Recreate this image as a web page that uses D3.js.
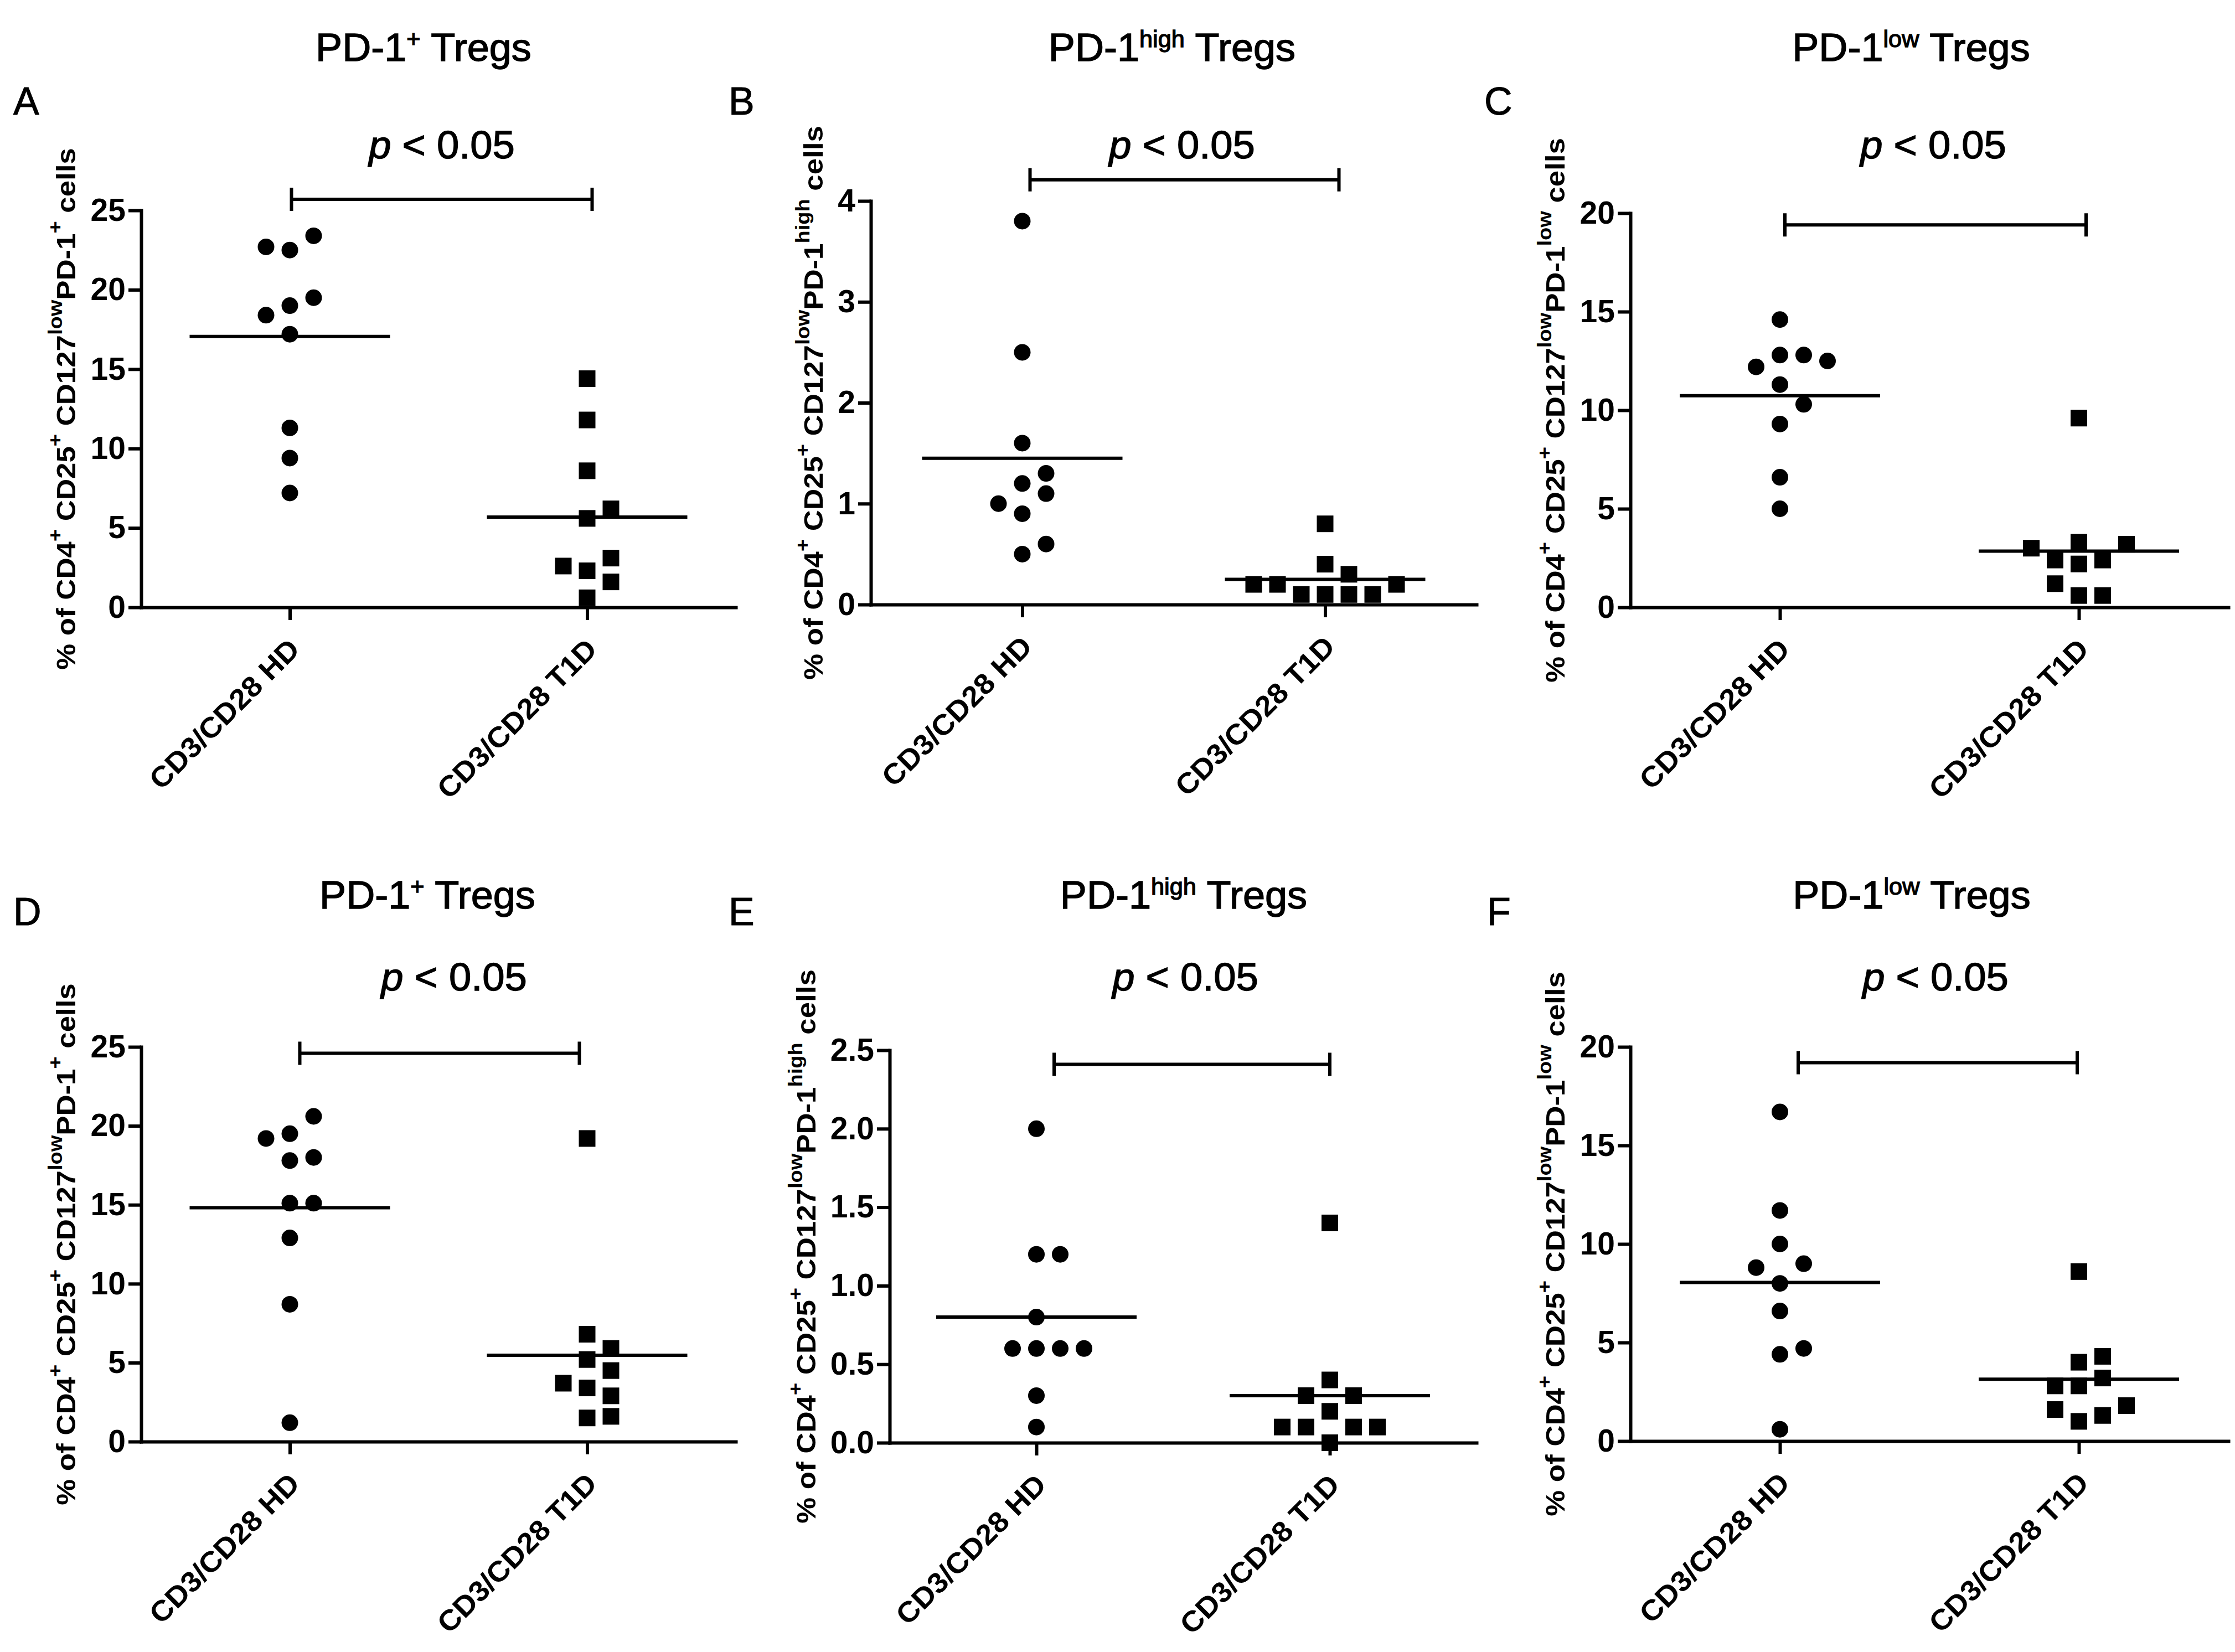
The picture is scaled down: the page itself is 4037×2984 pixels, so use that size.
<!DOCTYPE html>
<html>
<head>
<meta charset="utf-8">
<script src="https://cdn.jsdelivr.net/npm/d3@7"></script>
<style>
  html, body { margin: 0; padding: 0; background: #fff; }
  svg { display: block; font-family: "Liberation Sans", Arial, sans-serif; }
</style>
</head>
<body>
<div id="chart"></div>
<script>
const W = 4037, H = 2984;

// ---- data ----
const categories = ["CD3/CD28 HD", "CD3/CD28 T1D"];
const letters = ["A", "B", "C", "D", "E", "F"];
const subsets = ["+", "high", "low", "+", "high", "low"];

// values in entry order (the order decides which dots get pushed sideways)
const hdA  = [22.5, 23.4, 22.7, 19.0, 19.5, 18.4, 17.2, 11.3, 9.4, 7.2];
const t1dA = [14.4, 11.8, 8.6, 5.6, 6.2, 2.3, 3.1, 2.6, 0.6, 1.6];
const hdB  = [3.8, 2.5, 1.6, 1.2, 1.3, 1.1, 0.9, 1.0, 0.5, 0.6];
const t1dB = [0.8, 0.4, 0.3, 0.1, 0.1, 0.1, 0.1, 0.2, 0.2, 0.2];
const hdC  = [14.6, 12.8, 12.8, 12.2, 12.5, 11.3, 10.3, 9.3, 6.6, 5.0];
const t1dC = [9.6, 2.2, 2.4, 2.4, 3.2, 3.0, 3.3, 0.6, 0.6, 1.2];
const hdD  = [19.5, 17.8, 18.0, 19.2, 20.6, 15.1, 15.1, 12.9, 8.7, 1.2];
const t1dD = [19.2, 5.2, 5.9, 4.5, 6.8, 3.4, 3.7, 1.5, 1.6, 2.9];
const hdE  = [2.0, 1.2, 1.2, 0.8, 0.6, 0.6, 0.6, 0.6, 0.3, 0.1];
const t1dE = [1.4, 0.4, 0.3, 0.3, 0.2, 0.1, 0.1, 0.1, 0.1, 0.0];
const hdF  = [16.7, 11.7, 10.0, 8.0, 9.0, 8.8, 6.6, 4.4, 4.7, 0.6];
const t1dF = [8.6, 4.0, 4.3, 2.8, 3.2, 2.8, 1.0, 1.3, 1.6, 1.8];

const ticks25  = [0, 5, 10, 15, 20, 25];
const ticks4   = [0, 1, 2, 3, 4];
const ticks20  = [0, 5, 10, 15, 20];
const ticks2p5 = [0, 0.5, 1.0, 1.5, 2.0, 2.5];

const pText = "< 0.05";
const bracketAt = [25.7, 4.21, 19.4, 24.6, 2.41, 19.2];   // level of the p bracket, in axis units

// ---- layout (pixels) ----
const layout = [
  {x0: 255,  top: 380,  bottom: 1097, len: 1074, titleX: 765,  titleY: 110,  letterX: 24,   letterY: 207,  pX: 798,  pY: 286,  br: [3, 9]},
  {x0: 1573, top: 363,  bottom: 1092, len: 1094, titleX: 2117, titleY: 110,  letterX: 1316, letterY: 207,  pX: 2135, pY: 286,  br: [14, 25]},
  {x0: 2945, top: 385,  bottom: 1097, len: 1080, titleX: 3452, titleY: 110,  letterX: 2681, letterY: 207,  pX: 3492, pY: 286,  br: [9, 13]},
  {x0: 255,  top: 1891, bottom: 2604, len: 1074, titleX: 772,  titleY: 1641, letterX: 24,   letterY: 1671, pX: 820,  pY: 1789, br: [18, -14]},
  {x0: 1607, top: 1897, bottom: 2606, len: 1060, titleX: 2138, titleY: 1641, letterX: 1316, letterY: 1671, pX: 2141, pY: 1789, br: [32, 0]},
  {x0: 2945, top: 1891, bottom: 2603, len: 1080, titleX: 3453, titleY: 1641, letterX: 2686, letterY: 1671, pX: 3496, pY: 1789, br: [33, -3]}
];

const panels = [
  {hd: hdA, t1d: t1dA, ticks: ticks25,  fmt: "d"},
  {hd: hdB, t1d: t1dB, ticks: ticks4,   fmt: "d"},
  {hd: hdC, t1d: t1dC, ticks: ticks20,  fmt: "d"},
  {hd: hdD, t1d: t1dD, ticks: ticks25,  fmt: "d"},
  {hd: hdE, t1d: t1dE, ticks: ticks2p5, fmt: ".1f"},
  {hd: hdF, t1d: t1dF, ticks: ticks20,  fmt: "d"}
];

const ROOM = 36;      // vertical room a dot needs before the next one is pushed sideways
const STEP = 43;      // sideways step
const R = 15;         // dot radius
const SQ = 30;        // square side
const HALF = 181;     // half width of the mean bar
const LW = 6;         // line width

const svg = d3.select("#chart").append("svg")
  .attr("width", W).attr("height", H)
  .attr("viewBox", `0 0 ${W} ${H}`);
svg.append("rect").attr("width", W).attr("height", H).attr("fill", "#fff");

// greedy column spread, GraphPad style: stay in the centre when there is room,
// otherwise step right, left, two right, ...
function spread(values, y) {
  const order = [0];
  for (let k = 1; k <= 6; k++) order.push(k, -k);
  const placed = [];
  return values.map(v => {
    const py = y(v);
    const slot = order.find(s => placed.every(p => p.slot !== s || Math.abs(p.py - py) >= ROOM));
    placed.push({slot, py});
    return {v, slot, py};
  });
}

// text with superscripts; o: x, y, size, rotate, stretch, anchor, weight, shift, supScale, supRise, heavy
function addText(parent, parts, o) {
  const t = parent.append("text")
    .attr("transform", `translate(${o.x},${o.y}) rotate(${o.rotate || 0}) scale(${o.stretch || 1},1)`)
    .attr("text-anchor", o.anchor || "start")
    .attr("font-size", o.size)
    .attr("font-weight", o.weight || "normal")
    .attr("fill", "#000");
  if (o.heavy) t.attr("stroke", "#000").attr("stroke-width", o.heavy);
  const rise = o.size * (o.supRise || 0.42);
  let up = false;
  parts.forEach((p, i) => {
    const s = t.append("tspan").text(p.t);
    let dy = i === 0 ? (o.shift || 0) : 0;
    if (p.sup) {
      s.attr("font-size", o.size * (o.supScale || 0.62));
      if (!up) dy -= rise;
      up = true;
    } else if (up) {
      dy += rise;
      up = false;
    }
    if (dy) s.attr("dy", dy);
    if (p.italic) s.attr("font-style", "italic");
  });
  return t;
}

panels.forEach((pn, i) => {
  const f = layout[i];
  const g = svg.append("g");

  const x = d3.scalePoint(categories, [f.x0, f.x0 + f.len]).padding(0.5);
  const y = d3.scaleLinear([0, d3.max(pn.ticks)], [f.bottom, f.top]);

  // y axis
  const ay = g.append("g")
    .attr("transform", `translate(${f.x0},0)`)
    .call(d3.axisLeft(y).tickValues(pn.ticks).tickFormat(d3.format(pn.fmt))
      .tickSizeInner(23).tickSizeOuter(0).tickPadding(5));
  ay.attr("font-size", 57).attr("font-weight", "bold")
    .attr("font-family", "'Liberation Sans', Arial, sans-serif");
  ay.selectAll("text").attr("fill", "#000");
  ay.selectAll("line, path").attr("stroke", "#000").attr("stroke-width", LW);
  ay.select(".domain").attr("stroke-linecap", "square");

  // x axis
  const ax = g.append("g")
    .attr("transform", `translate(0,${f.bottom})`)
    .call(d3.axisBottom(x).tickSizeInner(23).tickSizeOuter(0).tickFormat(""));
  ax.selectAll("line, path").attr("stroke", "#000").attr("stroke-width", LW);
  ax.select(".domain").attr("stroke-linecap", "square");

  // category labels, slanted
  categories.forEach(c => {
    addText(g, [{t: c}], {x: x(c) + 8, y: f.bottom + 66, size: 52, weight: "bold",
      rotate: -45, stretch: 1.05, anchor: "end", shift: 52 * 0.35});
  });

  // y title, centred on the axis, clear of the tick labels
  const bb = ay.node().getBBox();
  const ytX = f.x0 + bb.x - 44;
  addText(g, [
    {t: "% of CD4"}, {t: "+", sup: true}, {t: " CD25"}, {t: "+", sup: true},
    {t: " CD127"}, {t: "low", sup: true}, {t: "PD-1"}, {t: subsets[i], sup: true}, {t: " cells"}
  ], {x: ytX, y: (f.top + f.bottom) / 2, size: 48, weight: "bold", rotate: -90,
      stretch: 1.1, anchor: "middle", shift: 48 * 0.35, supScale: 0.72, supRise: 0.5});

  // points
  const hdPts = spread(pn.hd, y);
  const t1Pts = spread(pn.t1d, y);
  g.append("g").selectAll("circle").data(hdPts).join("circle")
    .attr("cx", d => x(categories[0]) + d.slot * STEP)
    .attr("cy", d => d.py)
    .attr("r", R).attr("fill", "#000");
  g.append("g").selectAll("rect").data(t1Pts).join("rect")
    .attr("x", d => x(categories[1]) + d.slot * STEP - SQ / 2)
    .attr("y", d => d.py - SQ / 2)
    .attr("width", SQ).attr("height", SQ).attr("fill", "#000");

  // mean bars
  g.append("g").selectAll("line").data([[categories[0], pn.hd], [categories[1], pn.t1d]]).join("line")
    .attr("x1", d => x(d[0]) - HALF).attr("x2", d => x(d[0]) + HALF)
    .attr("y1", d => y(d3.mean(d[1]))).attr("y2", d => y(d3.mean(d[1])))
    .attr("stroke", "#000").attr("stroke-width", LW);

  // p bracket
  const by = y(bracketAt[i]);
  const xa = x(categories[0]) + f.br[0], xb = x(categories[1]) + f.br[1];
  g.append("path")
    .attr("d", `M${xa},${by - 21}V${by + 21}M${xa},${by}H${xb}M${xb},${by - 21}V${by + 21}`)
    .attr("fill", "none").attr("stroke", "#000").attr("stroke-width", LW);

  addText(g, [{t: "p", italic: true}, {t: " " + pText}],
    {x: f.pX, y: f.pY, size: 71, stretch: 1.02, anchor: "middle", heavy: 1.4});

  // panel title and letter
  addText(g, [{t: "PD-1"}, {t: subsets[i], sup: true}, {t: " Tregs"}],
    {x: f.titleX, y: f.titleY, size: 70, stretch: 1.03, anchor: "middle", supScale: 0.6, supRise: 0.36, heavy: 1.4});
  addText(g, [{t: letters[i]}], {x: f.letterX, y: f.letterY, size: 70, heavy: 1});
});
</script>
</body>
</html>
